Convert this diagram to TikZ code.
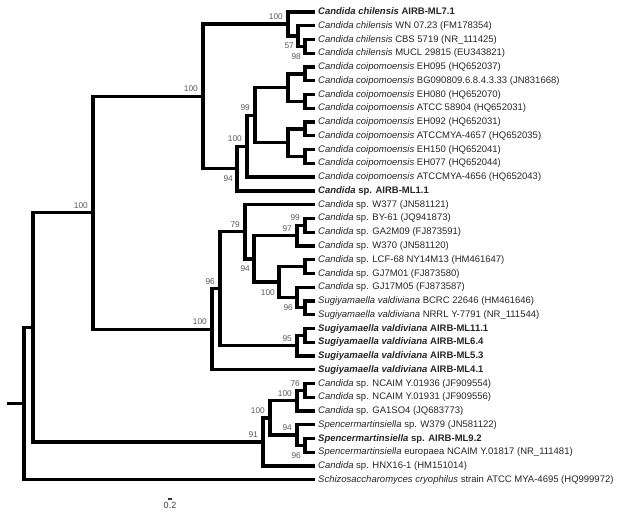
\documentclass[tikz,border=0pt]{standalone}
\usepackage{fontspec}
\setmainfont{Liberation Sans}
\usetikzlibrary{positioning}

% y of the k-th taxon row (fractional k for inner nodes)
\newcommand\ly[1]{12+(#1-1)*13.76}

\tikzset{
  branch/.style={line width=3.3pt,black},
  leaf/.style={anchor=west,inner xsep=3pt,inner ysep=0pt,text height=6.8pt,text depth=1.6pt,
    text=black!85,font=\fontsize{9.5}{11}\selectfont},
  bs/.style={inner sep=1pt,text=black!65,font=\fontsize{8.3}{9}\selectfont},
  bup/.style={bs,anchor=south east,xshift=-4pt,yshift=3pt},
  bdown/.style={bs,anchor=north east,xshift=-3pt,yshift=-6pt}
}

\begin{document}
\begin{tikzpicture}[x=1pt,y=-1pt]
\useasboundingbox (0,0) rectangle (627,518);

% taxa
\def\taxa{1/{\textbf{\textit{Candida chilensis} AIRB-ML7.1}},
  2/{\textit{Candida chilensis} WN 07.23 (FM178354)},
  3/{\textit{Candida chilensis} CBS 5719 (NR\_111425)},
  4/{\textit{Candida chilensis} MUCL 29815 (EU343821)},
  5/{\textit{Candida coipomoensis} EH095 (HQ652037)},
  6/{\textit{Candida coipomoensis} BG090809.6.8.4.3.33 (JN831668)},
  7/{\textit{Candida coipomoensis} EH080 (HQ652070)},
  8/{\textit{Candida coipomoensis} ATCC 58904 (HQ652031)},
  9/{\textit{Candida coipomoensis} EH092 (HQ652031)},
  10/{\textit{Candida coipomoensis} ATCCMYA-4657 (HQ652035)},
  11/{\textit{Candida coipomoensis} EH150 (HQ652041)},
  12/{\textit{Candida coipomoensis} EH077 (HQ652044)},
  13/{\textit{Candida coipomoensis} ATCCMYA-4656 (HQ652043)},
  14/{\textbf{\textit{Candida} sp. AIRB-ML1.1}},
  15/{\textit{Candida} sp. W377 (JN581121)},
  16/{\textit{Candida} sp. BY-61 (JQ941873)},
  17/{\textit{Candida} sp. GA2M09 (FJ873591)},
  18/{\textit{Candida} sp. W370 (JN581120)},
  19/{\textit{Candida} sp. LCF-68 NY14M13 (HM461647)},
  20/{\textit{Candida} sp. GJ7M01 (FJ873580)},
  21/{\textit{Candida} sp. GJ17M05 (FJ873587)},
  22/{\textit{Sugiyamaella valdiviana} BCRC 22646 (HM461646)},
  23/{\textit{Sugiyamaella valdiviana} NRRL Y-7791 (NR\_111544)},
  24/{\textbf{\textit{Sugiyamaella valdiviana} AIRB-ML11.1}},
  25/{\textbf{\textit{Sugiyamaella valdiviana} AIRB-ML6.4}},
  26/{\textbf{\textit{Sugiyamaella valdiviana} AIRB-ML5.3}},
  27/{\textbf{\textit{Sugiyamaella valdiviana} AIRB-ML4.1}},
  28/{\textit{Candida} sp. NCAIM Y.01936 (JF909554)},
  29/{\textit{Candida} sp. NCAIM Y.01931 (JF909556)},
  30/{\textit{Candida} sp. GA1SO4 (JQ683773)},
  31/{\textit{Spencermartinsiella} sp. W379 (JN581122)},
  32/{\textbf{\textit{Spencermartinsiella} sp. AIRB-ML9.2}},
  33/{\textit{Spencermartinsiella} europaea NCAIM Y.01817 (NR\_111481)},
  34/{\textit{Candida} sp. HNX16-1 (HM151014)},
  35/{\textit{Schizosaccharomyces cryophilus} strain ATCC MYA-4695 (HQ999972)}}
\foreach \i/\txt in \taxa
  \node[leaf] (l\i) at (315,{\ly{\i}}) {\txt};

% inner nodes
\coordinate (chC) at (305,{\ly{3.5}});
\coordinate (chB) at (298,{\ly{2.75}});
\coordinate (chA) at (288,{\ly{1.875}});
\coordinate (coA) at (305,{\ly{5.5}});
\coordinate (coB) at (305,{\ly{7.5}});
\coordinate (coC) at (305,{\ly{9.5}});
\coordinate (coD) at (305,{\ly{11.5}});
\coordinate (coE) at (288,{\ly{6.5}});
\coordinate (coF) at (288,{\ly{10.5}});
\coordinate (coG) at (255,{\ly{8.5}});
\coordinate (coH) at (247,{\ly{10.75}});
\coordinate (coI) at (237,{\ly{12.375}});
\coordinate (cand) at (203,{\ly{7.125}});
\coordinate (spA) at (305,{\ly{16.5}});
\coordinate (spB) at (297,{\ly{17.25}});
\coordinate (spC) at (305,{\ly{19.5}});
\coordinate (svA) at (305,{\ly{22.5}});
\coordinate (spD) at (297,{\ly{21.75}});
\coordinate (spE) at (279,{\ly{20.625}});
\coordinate (spF) at (254,{\ly{18.94}});
\coordinate (spG) at (245,{\ly{16.97}});
\coordinate (svB) at (305,{\ly{24.5}});
\coordinate (svC) at (297,{\ly{25.25}});
\coordinate (svD) at (220,{\ly{21.11}});
\coordinate (svE) at (212,{\ly{24.05}});
\coordinate (top) at (93,{\ly{15.59}});
\coordinate (smA) at (305,{\ly{28.5}});
\coordinate (smB) at (297,{\ly{29.25}});
\coordinate (smC) at (305,{\ly{32.5}});
\coordinate (smD) at (297,{\ly{31.75}});
\coordinate (smE) at (270,{\ly{30.5}});
\coordinate (smF) at (263,{\ly{32.25}});
\coordinate (ingrp) at (33,{\ly{23.92}});
\coordinate (root) at (24,{\ly{29.46}});
\coordinate (base) at (7,{\ly{29.46}});

% branches
\foreach \p/\c in {chA/l1,chA/chB,chB/l2,chB/chC,chC/l3,chC/l4,
    coA/l5,coA/l6,coB/l7,coB/l8,coC/l9,coC/l10,coD/l11,coD/l12,
    coE/coA,coE/coB,coF/coC,coF/coD,coG/coE,coG/coF,coH/coG,coH/l13,
    coI/coH,coI/l14,cand/chA,cand/coI,
    spA/l16,spA/l17,spB/spA,spB/l18,spC/l19,spC/l20,svA/l22,svA/l23,
    spD/l21,spD/svA,spE/spC,spE/spD,spF/spB,spF/spE,spG/l15,spG/spF,
    svB/l24,svB/l25,svC/svB,svC/l26,svD/spG,svD/svC,svE/svD,svE/l27,
    top/cand,top/svE,
    smA/l28,smA/l29,smB/smA,smB/l30,smC/l32,smC/l33,smD/l31,smD/smC,
    smE/smB,smE/smD,smF/smE,smF/l34,
    ingrp/top,ingrp/smF,root/ingrp,root/l35}
  \draw[branch] (\p) |- (\c);
\draw[branch] (base) -- (root);

% bootstrap values
\foreach \n/\v/\s in {chA/100/bup,chB/57/bdown,chC/98/bdown,coG/99/bup,
    coH/100/bup,coI/94/bdown,cand/100/bup,spA/99/bup,spB/97/bup,
    spD/96/bdown,spE/100/bdown,spF/94/bdown,spG/79/bup,svC/95/bup,
    svD/96/bup,svE/100/bup,top/100/bup,smA/76/bup,smB/100/bup,
    smC/96/bdown,smD/94/bup,smE/100/bup,smF/91/bup}
  \node[\s] (bs\n) at (\n) {\v};

% scale bar
\coordinate (sbl) at (168,499);
\coordinate (sbr) at (172,499);
\draw[line width=2.6pt,black!80] (sbl) -- (sbr);
\node[bs,font=\fontsize{9}{10}\selectfont,text=black!75,below=2pt of sbl,xshift=2pt] (sblab) {0.2};

\end{tikzpicture}
\end{document}
